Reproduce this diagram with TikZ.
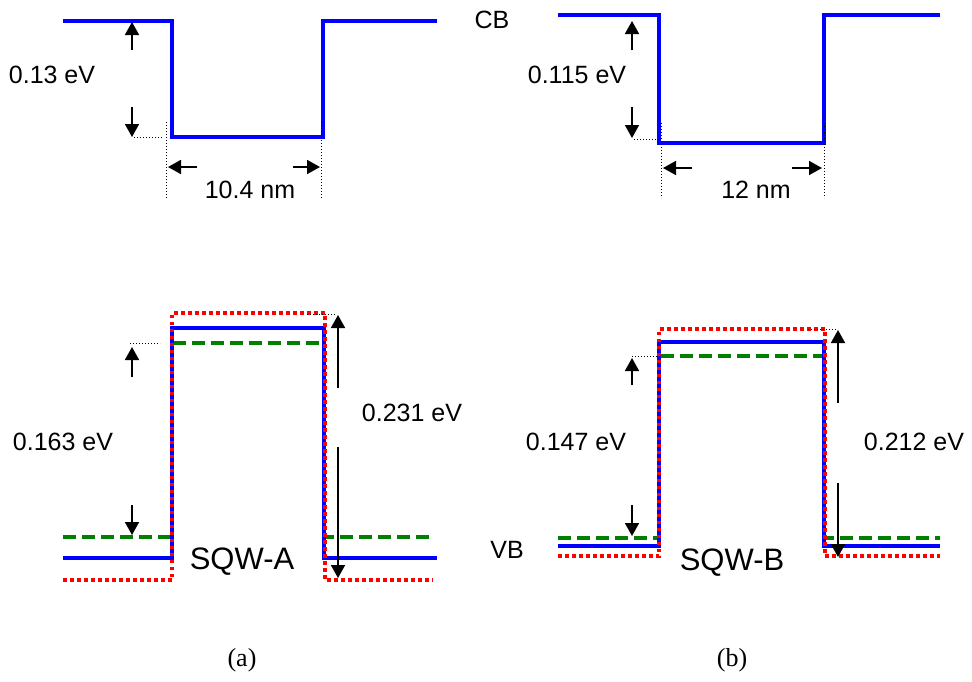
\documentclass[tikz,border=0pt]{standalone}
\usepackage{fontspec}
\setmainfont{Liberation Sans}
\newfontfamily\capfont{Liberation Serif}
\usepackage{tikz}
\usetikzlibrary{arrows.meta}
\definecolor{bandB}{HTML}{0000FF}
\definecolor{bandG}{HTML}{008000}
\definecolor{bandR}{HTML}{FF0000}

\begin{document}
\begin{tikzpicture}[x=1pt,y=-1pt,>={Triangle[length=13pt,width=14pt]},
  cbline/.style={bandB,line width=3.8pt},
  hhline/.style={bandG,line width=3.5pt,dash pattern=on 13pt off 6pt},
  lhline/.style={bandR,line width=3.5pt,dash pattern=on 3.5pt off 3.5pt},
  dimarrow/.style={black,line width=1.8pt,->},
  guide/.style={black,line width=1pt,dotted},
  lbl/.style={font=\fontsize{25}{28}\selectfont,inner sep=0pt},
  tag/.style={font=\fontsize{31}{36}\selectfont,inner sep=0pt},
  captext/.style={font=\capfont\fontsize{26}{30}\selectfont,inner sep=0pt}]
  \useasboundingbox[fill=white] (0,0) rectangle (972,681);
  % (a) conduction band
  \draw[cbline] (63,21) -- (172,21) -- (172,137) -- (323,137) -- (323,21) -- (437,21);
  \draw[dimarrow] (132,50) -- (132,22);
  \draw[dimarrow] (132,107) -- (132,137);
  \draw[guide] (134,137) -- (162,137);
  \draw[guide] (166,122) -- (166,198);
  \draw[guide] (321,122) -- (321,198);
  \draw[dimarrow] (197,167) -- (168,167);
  \draw[dimarrow] (293,167) -- (320,167);
  \node[lbl] (cbA) at (52,75) {0.13 eV};
  \node[lbl] (widthA) at (250,190) {10.4 nm};
  % (b) conduction band
  \draw[cbline] (558,15) -- (659,15) -- (659,143) -- (824,143) -- (824,15) -- (940,15);
  \draw[dimarrow] (632,50) -- (632,21);
  \draw[dimarrow] (632,107) -- (632,138);
  \draw[guide] (634,139) -- (659,139);
  \draw[guide] (661,123) -- (661,198);
  \draw[guide] (824,123) -- (824,198);
  \draw[dimarrow] (692,168) -- (663,168);
  \draw[dimarrow] (792,168) -- (822,168);
  \node[lbl] (cbB) at (577,75) {0.115 eV};
  \node[lbl] (widthB) at (756,190) {12 nm};
  \node[lbl] (cbtag) at (492,20) {CB};
  % (a) valence band
  \draw[hhline] (63,537) -- (172,537) -- (172,343) -- (324,343) -- (324,537) -- (433,537);
  \draw[cbline,line width=3.2pt] (63,558) -- (172,558) -- (172,328) -- (324,328) -- (324,558) -- (437,558);
  \draw[lhline] (63,580) -- (172,580) -- (172,313) -- (325,313) -- (325,580) -- (433,580);
  \draw[guide] (130,343) -- (160,343);
  \draw[dimarrow] (132,377) -- (132,347);
  \draw[dimarrow] (132,505) -- (132,535);
  \draw[guide] (307,314) -- (336,314);
  \draw[dimarrow] (338,388) -- (338,315);
  \draw[dimarrow] (338,447) -- (338,578);
  \node[lbl] (hhA) at (63,442) {0.163 eV};
  \node[lbl] (lhA) at (412,413) {0.231 eV};
  \node[tag] (sqwA) at (242,562) {SQW-A};
  % (b) valence band
  \draw[hhline] (558,538) -- (659,538) -- (659,356) -- (824,356) -- (824,538) -- (940,538);
  \draw[cbline,line width=3.2pt] (558,546) -- (659,546) -- (659,342) -- (824,342) -- (824,546) -- (940,546);
  \draw[lhline] (558,556) -- (659,556) -- (659,329) -- (825,329) -- (825,556) -- (940,556);
  \draw[guide] (632,356) -- (657,356);
  \draw[dimarrow] (632,385) -- (632,358);
  \draw[dimarrow] (632,505) -- (632,536);
  \draw[guide] (808,329) -- (836,329);
  \draw[dimarrow] (838,403) -- (838,330);
  \draw[dimarrow] (838,483) -- (838,557);
  \node[lbl] (hhB) at (576,442) {0.147 eV};
  \node[lbl] (lhB) at (914,442) {0.212 eV};
  \node[lbl] (vbtag) at (507,550) {VB};
  \node[tag] (sqwB) at (732,563) {SQW-B};
  % captions
  \node[captext] (capA) at (242,660) {(a)};
  \node[captext] (capB) at (732,660) {(b)};
\end{tikzpicture}
\end{document}
